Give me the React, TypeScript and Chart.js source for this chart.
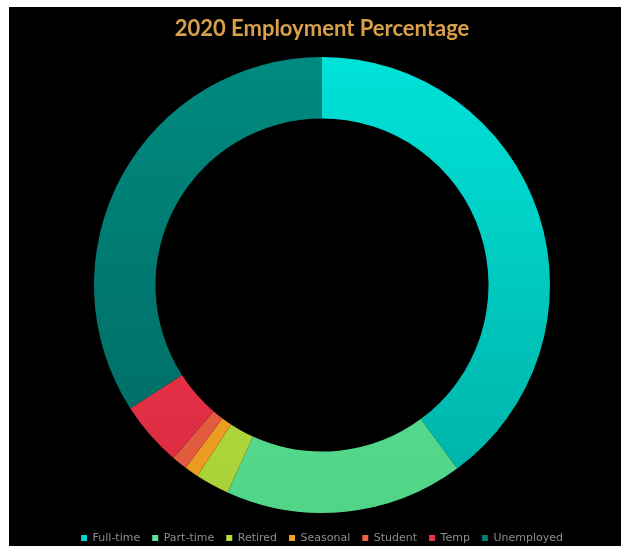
import React, { useEffect, useRef } from "react";
import { Chart, registerables } from "chart.js";

Chart.register(...registerables);

const categories = ["Full-time", "Part-time", "Retired", "Seasonal", "Student", "Temp", "Unemployed"];
const percentages = [39.9, 16.9, 2.4, 1.0, 1.1, 4.6, 34.1];
const topColors = ["#00E2D8", "#64EE9E", "#C4EA4A", "#FAB232", "#F66C4E", "#F63C50", "#008A80"];
const bottomColors = ["#00B0A6", "#50D488", "#A8D038", "#E8981E", "#DE583C", "#DA2A40", "#006860"];
const legendColors = ["#00D6CC", "#5CE496", "#B4DC40", "#F0A428", "#EC6246", "#EC3448", "#007C74"];
const titleText = "2020 Employment Percentage";

export default function App() {
  const canvasRef = useRef<HTMLCanvasElement | null>(null);

  useEffect(() => {
    const canvas = canvasRef.current;
    if (!canvas) return;
    const R = 228;
    const chart = new Chart(canvas, {
      type: "doughnut",
      data: {
        labels: categories,
        datasets: [
          {
            data: percentages,
            borderWidth: 0,
            backgroundColor: (ctx: any) => {
              const i = ctx.dataIndex;
              const c = ctx.chart;
              const area = c.chartArea;
              if (!area || i === undefined) return legendColors[i ?? 0];
              const cy = (area.top + area.bottom) / 2;
              const g = c.ctx.createLinearGradient(0, cy - R, 0, cy + R);
              g.addColorStop(0, topColors[i]);
              g.addColorStop(1, bottomColors[i]);
              return g;
            },
          },
        ],
      },
      options: {
        animation: false,
        responsive: false,
        maintainAspectRatio: false,
        radius: R,
        cutout: 172,
        layout: { padding: { top: 9, left: 14, right: 0, bottom: 3.5 } },
        plugins: {
          title: {
            display: true,
            text: titleText,
            color: "#D8A048",
            font: { family: "Lato", size: 22, weight: "bold" },
            padding: { top: 0, bottom: 7.1 },
          },
          legend: {
            position: "bottom",
            labels: {
              boxWidth: 6,
              boxHeight: 6,
              padding: 12,
              color: "#8c8c8c",
              font: { family: "DejaVu Sans", size: 11 },
              generateLabels: () =>
                categories.map((c, i) => ({
                  text: c,
                  fillStyle: legendColors[i],
                  strokeStyle: legendColors[i],
                  lineWidth: 0,
                  fontColor: "#8c8c8c",
                  hidden: false,
                  index: i,
                })),
            },
          },
          tooltip: { enabled: false },
        },
      } as any,
    });
    return () => chart.destroy();
  }, []);

  return (
    <div
      style={{
        position: "fixed",
        left: 9,
        top: 7,
        width: 612,
        height: 550,
        background: "#000",
      }}
    >
      <canvas ref={canvasRef} width={612} height={550} style={{ display: "block" }} />
    </div>
  );
}
